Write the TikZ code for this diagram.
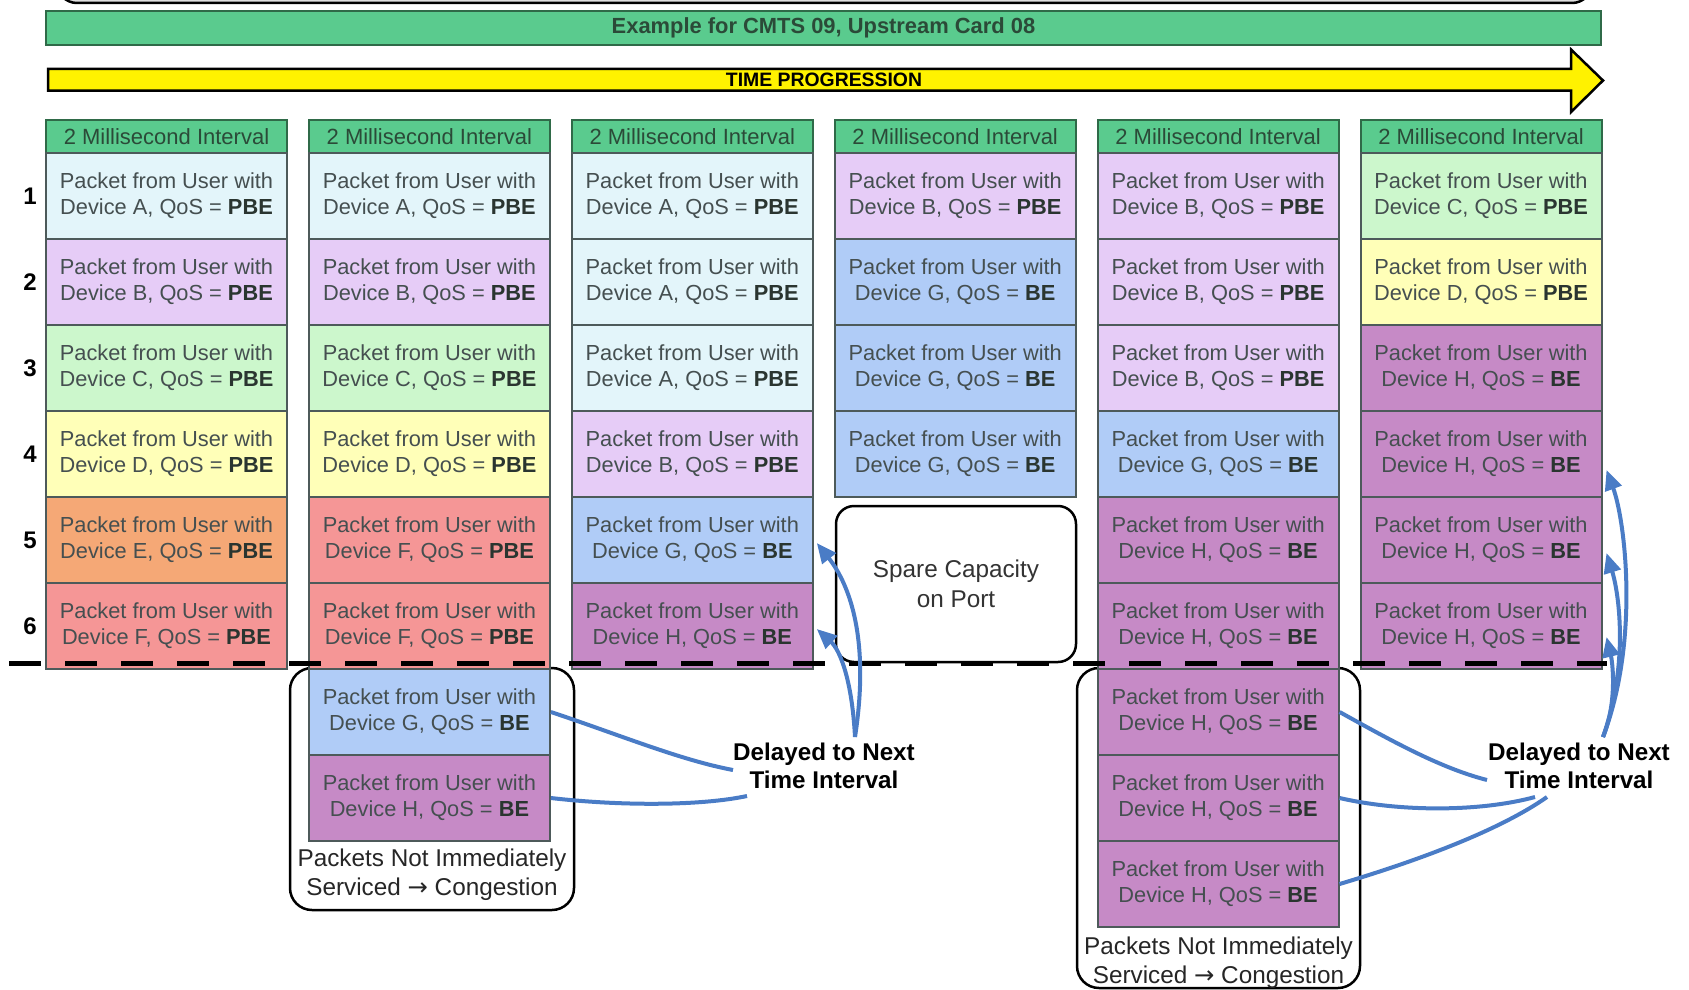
\documentclass[tikz,border=0pt]{standalone}
\usepackage{fontspec}
\setmainfont{Liberation Sans}
\newfontfamily\arrowfont{DejaVu Sans}
\usetikzlibrary{arrows.meta,calc}
\definecolor{cA}{HTML}{E3F5FA}
\definecolor{cB}{HTML}{E6CCF7}
\definecolor{cC}{HTML}{CCF7CC}
\definecolor{cD}{HTML}{FFFFB8}
\definecolor{cE}{HTML}{F5A876}
\definecolor{cF}{HTML}{F59696}
\definecolor{cG}{HTML}{B0CCF7}
\definecolor{cH}{HTML}{C68AC6}
\definecolor{hdrgreen}{HTML}{5ACB8E}
\definecolor{hdrborder}{HTML}{2F6A48}
\definecolor{hdrtext}{HTML}{2B4A38}
\definecolor{celltext}{HTML}{454F50}
\definecolor{boldtext}{HTML}{2A3530}
\definecolor{cellborder}{HTML}{4D5A5A}
\definecolor{arrblue}{HTML}{4A7CC6}
\newcommand{\pk}[6]{\node[cell, fill=#4] (#1) at (#2,#3) {Packet from User with\\Device #5, QoS = \textbf{\color{boldtext}#6}};}
\newcommand{\rarr}{{\arrowfont →}}
\begin{document}
\begin{tikzpicture}[x=1pt,y=-1pt,
  cell/.style={draw=cellborder, line width=2pt, minimum width=241pt, minimum height=86pt, inner sep=0pt, align=center, text=celltext, font=\fontsize{21.8}{26}\selectfont},
  hdr/.style={draw=hdrborder, line width=2pt, fill=hdrgreen, minimum width=241pt, minimum height=33.5pt, inner sep=0pt, text=hdrtext, font=\fontsize{22}{24}\selectfont},
  rownum/.style={font=\bfseries\fontsize{24}{24}\selectfont},
  grp/.style={draw=black, line width=2.5pt, rounded corners=22pt, fill=white},
  captext/.style={align=center, inner sep=0pt, text=black!85, font=\fontsize{24.3}{29}\selectfont},
  delay/.style={align=center, inner sep=0pt, font=\bfseries\fontsize{24.2}{28}\selectfont},
  bluel/.style={draw=arrblue, line width=4pt},
  bluea/.style={draw=arrblue, line width=4pt, -{Triangle[length=20pt,width=17pt]}}
]
\useasboundingbox (0,0) rectangle (1689,990);
% top partially visible box
\draw[line width=2.5pt, fill=gray!25, rounded corners=20pt] (57,-40) rectangle (1592,3);
% title bar
\node[draw=hdrborder, line width=2pt, fill=hdrgreen, minimum width=1555pt, minimum height=34pt, inner sep=0pt, text=hdrtext, font=\bfseries\fontsize{21.9}{24}\selectfont] (title) at (823.5,28) {Example for CMTS 09, Upstream Card 08};
% time progression arrow
\draw[line width=2.5pt, fill=yellow, line join=miter] (48,69) -- (1571,69) -- (1571,49.5) -- (1603,80.5) -- (1571,112) -- (1571,90.5) -- (48,90.5) -- cycle;
\node[font=\bfseries\fontsize{19.4}{20}\selectfont, inner sep=0pt] (tp) at (824,80) {TIME PROGRESSION};
% headers
\foreach \x [count=\i] in {166.5,429.4,692.3,955.2,1218.1,1481} {
  \node[hdr] (h\i) at (\x,136.3) {2 Millisecond Interval};
}
% row numbers
\foreach \y [count=\i] in {196,282,368,454,540,626} {
  \node[rownum] (n\i) at (30,\y) {\i};
}
% group boxes
\draw[grp] (290,668) rectangle (574,910);
\draw[grp] (1077,668) rectangle (1360,988);
\node[captext] (cap1) at (432,874.5) {Packets Not Immediately\\Serviced \rarr{} Congestion};
\node[captext] (cap2) at (1218.5,962.5) {Packets Not Immediately\\Serviced \rarr{} Congestion};
% column 1
\pk{c1r1}{166.5}{196}{cA}{A}{PBE}
\pk{c1r2}{166.5}{282}{cB}{B}{PBE}
\pk{c1r3}{166.5}{368}{cC}{C}{PBE}
\pk{c1r4}{166.5}{454}{cD}{D}{PBE}
\pk{c1r5}{166.5}{540}{cE}{E}{PBE}
\pk{c1r6}{166.5}{626}{cF}{F}{PBE}
% column 2
\pk{c2r1}{429.4}{196}{cA}{A}{PBE}
\pk{c2r2}{429.4}{282}{cB}{B}{PBE}
\pk{c2r3}{429.4}{368}{cC}{C}{PBE}
\pk{c2r4}{429.4}{454}{cD}{D}{PBE}
\pk{c2r5}{429.4}{540}{cF}{F}{PBE}
\pk{c2r6}{429.4}{626}{cF}{F}{PBE}
\pk{c2o1}{429.4}{712}{cG}{G}{BE}
\pk{c2o2}{429.4}{798}{cH}{H}{BE}
% column 3
\pk{c3r1}{692.3}{196}{cA}{A}{PBE}
\pk{c3r2}{692.3}{282}{cA}{A}{PBE}
\pk{c3r3}{692.3}{368}{cA}{A}{PBE}
\pk{c3r4}{692.3}{454}{cB}{B}{PBE}
\pk{c3r5}{692.3}{540}{cG}{G}{BE}
\pk{c3r6}{692.3}{626}{cH}{H}{BE}
% column 4
\pk{c4r1}{955.2}{196}{cB}{B}{PBE}
\pk{c4r2}{955.2}{282}{cG}{G}{BE}
\pk{c4r3}{955.2}{368}{cG}{G}{BE}
\pk{c4r4}{955.2}{454}{cG}{G}{BE}
\node[draw, line width=2.5pt, rounded corners=18pt, fill=white, minimum width=240pt, minimum height=156pt, align=center, text=black!80, font=\fontsize{24.3}{30}\selectfont] (spare) at (956,584) {Spare Capacity\\on Port};
% column 5
\pk{c5r1}{1218.1}{196}{cB}{B}{PBE}
\pk{c5r2}{1218.1}{282}{cB}{B}{PBE}
\pk{c5r3}{1218.1}{368}{cB}{B}{PBE}
\pk{c5r4}{1218.1}{454}{cG}{G}{BE}
\pk{c5r5}{1218.1}{540}{cH}{H}{BE}
\pk{c5r6}{1218.1}{626}{cH}{H}{BE}
\pk{c5o1}{1218.1}{712}{cH}{H}{BE}
\pk{c5o2}{1218.1}{798}{cH}{H}{BE}
\pk{c5o3}{1218.1}{884}{cH}{H}{BE}
% column 6
\pk{c6r1}{1481}{196}{cC}{C}{PBE}
\pk{c6r2}{1481}{282}{cD}{D}{PBE}
\pk{c6r3}{1481}{368}{cH}{H}{BE}
\pk{c6r4}{1481}{454}{cH}{H}{BE}
\pk{c6r5}{1481}{540}{cH}{H}{BE}
\pk{c6r6}{1481}{626}{cH}{H}{BE}
% dashed cut line
\draw[line width=5.5pt, dash pattern=on 32pt off 24pt] (9,663.5) -- (1607,663.5);
% delay labels
\node[delay] (dl1) at (824,766) {Delayed to Next\\Time Interval};
\node[delay] (dl2) at (1579,766) {Delayed to Next\\Time Interval};
\coordinate (dl1a) at (733,770);
\coordinate (dl1b) at (747,796);
\coordinate (dl1t) at (855,737);
\coordinate (dl2a) at (1487,780);
\coordinate (dl2b) at (1535,797);
\coordinate (dl2c) at (1547,797);
\coordinate (dl2t) at (1603,737);
% left connectors
\draw[bluel] (c2o1.east) .. controls (620,735) and (680,760) .. (dl1a);
\draw[bluel] (c2o2.east) .. controls (620,806) and (700,806) .. (dl1b);
\draw[bluea] (dl1t) .. controls (870,640) and (850,585) .. ($(c3r5.east)+(3,3)$);
\draw[bluea] (dl1t) .. controls (852,680) and (840,650) .. ($(c3r6.east)+(3,3)$);
% right connectors
\draw[bluel] (c5o1.east) .. controls (1390,740) and (1440,768) .. (dl2a);
\draw[bluel] (c5o2.east) .. controls (1400,812) and (1480,812) .. (dl2b);
\draw[bluel] (c5o3.east) .. controls (1420,860) and (1500,830) .. (dl2c);
\draw[bluea] (dl2t) .. controls (1640,640) and (1625,520) .. ($(c6r4.east)+(4,16)$);
\draw[bluea] (dl2t) .. controls (1630,660) and (1618,590) .. ($(c6r5.east)+(4,13)$);
\draw[bluea] (dl2t) .. controls (1618,700) and (1612,660) .. ($(c6r6.east)+(4,11)$);
\end{tikzpicture}
\end{document}
